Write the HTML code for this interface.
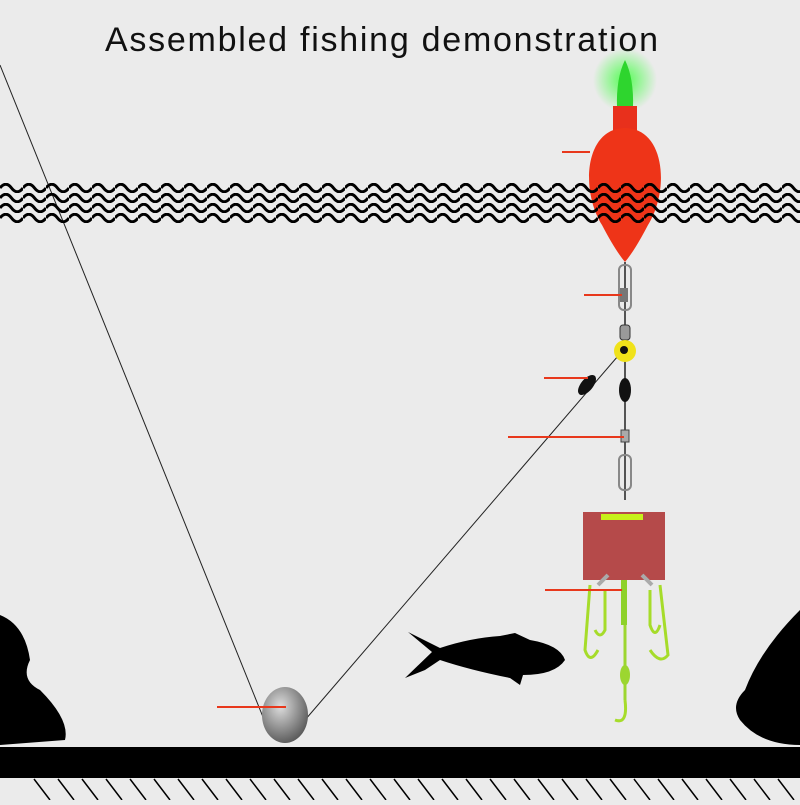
<!DOCTYPE html>
<html><head><style>
body{margin:0;width:800px;height:800px;overflow:hidden;background:#ebebeb;font-family:"Liberation Sans",sans-serif}
</style></head><body>
<svg width="800" height="800" viewBox="0 0 800 800">
<defs>
<pattern id="w" x="0" y="183" width="23" height="10" patternUnits="userSpaceOnUse"><path d="M0 5 Q5.75 -2.5 11.5 5 T23 5" fill="none" stroke="#000" stroke-width="3"/></pattern>
<radialGradient id="g" cx="0.5" cy="0.5" r="0.5"><stop offset="0" stop-color="#4f4" stop-opacity="0.9"/><stop offset="1" stop-color="#4f4" stop-opacity="0"/></radialGradient>
<radialGradient id="s" cx="0.4" cy="0.35" r="0.7"><stop offset="0" stop-color="#ddd"/><stop offset="1" stop-color="#555"/></radialGradient>
</defs>
<text x="105" y="51" font-size="34" fill="#111" textLength="553" lengthAdjust="spacing">Assembled  fishing  demonstration</text>
<line x1="0" y1="65" x2="265" y2="722" stroke="#222" stroke-width="1"/>
<line x1="305" y1="720" x2="618" y2="356" stroke="#222" stroke-width="1"/>
<!-- float -->
<circle cx="625" cy="80" r="32" fill="url(#g)"/>
<path d="M617 108 Q616 78 625 60 Q634 78 633 108 Z" fill="#2ed52e"/>
<rect x="613" y="106" width="24" height="28" fill="#e8301c"/>
<path d="M625 128 C585 128 580 190 602 225 Q615 250 625 262 Q635 250 648 225 C670 190 665 128 625 128 Z" fill="#ee3418"/>
<rect x="0" y="183" width="800" height="40" fill="url(#w)"/>
<!-- rig -->
<line x1="625" y1="262" x2="625" y2="500" stroke="#222" stroke-width="1.5"/>
<rect x="619" y="265" width="12" height="45" rx="5" fill="none" stroke="#888" stroke-width="2"/>
<rect x="620" y="288" width="8" height="14" fill="#777"/>
<rect x="620" y="325" width="10" height="15" rx="3" fill="#999" stroke="#333"/>
<circle cx="625" cy="351" r="11" fill="#f0e21a"/>
<circle cx="624" cy="350" r="4" fill="#111"/>
<ellipse cx="587" cy="385" rx="6" ry="12" transform="rotate(40 587 385)" fill="#111"/>
<ellipse cx="625" cy="390" rx="6" ry="12" fill="#111"/>
<rect x="621" y="430" width="8" height="12" fill="#aaa" stroke="#444"/>
<rect x="619" y="455" width="12" height="35" rx="5" fill="none" stroke="#888" stroke-width="2"/>
<!-- bait -->
<rect x="583" y="512" width="82" height="68" fill="#b54a4a"/>
<rect x="601" y="514" width="42" height="6" fill="#c8f01a"/>
<rect x="621" y="580" width="6" height="45" fill="#8ed12a"/>
<line x1="625" y1="625" x2="625" y2="700" stroke="#9cd630" stroke-width="3"/>
<ellipse cx="625" cy="675" rx="5" ry="10" fill="#9cd630"/>
<path d="M590 585 L585 650 Q590 665 598 650 M660 585 L668 655 Q660 665 650 650 M605 590 L605 630 Q600 640 595 630 M650 590 L650 625 Q655 640 660 625 M625 700 Q628 725 615 720" fill="none" stroke="#a6dc2a" stroke-width="3"/>
<path d="M598 585 L608 575 M652 585 L642 575" stroke="#aaa" stroke-width="4"/>
<!-- sinker -->
<ellipse cx="285" cy="715" rx="23" ry="28" fill="url(#s)"/>
<!-- labels -->
<g stroke="#e8381c" stroke-width="2">
<line x1="562" y1="152" x2="590" y2="152"/>
<line x1="584" y1="295" x2="622" y2="295"/>
<line x1="544" y1="378" x2="588" y2="378"/>
<line x1="508" y1="437" x2="624" y2="437"/>
<line x1="545" y1="590" x2="622" y2="590"/>
<line x1="217" y1="707" x2="286" y2="707"/>
</g>
<!-- fish -->
<path d="M408 632 L432 652 L405 678 L425 670 L440 660 Q470 670 510 678 L520 685 L523 675 Q555 675 565 660 Q560 645 530 640 L515 633 L500 636 Q470 638 440 648 Z" fill="#000"/>
<!-- rocks -->
<path d="M0 615 Q25 625 30 660 Q20 680 40 690 Q70 720 65 740 L0 745 Z" fill="#000"/>
<path d="M800 610 Q760 650 745 690 Q730 705 740 720 Q760 745 800 745 Z" fill="#000"/>
<!-- ground -->
<rect x="0" y="747" width="800" height="31" fill="#000"/>
<g stroke="#000" stroke-width="1.5">
<path d="M34 779 L50 800 M58 779 L74 800 M82 779 L98 800 M106 779 L122 800 M130 779 L146 800 M154 779 L170 800 M178 779 L194 800 M202 779 L218 800 M226 779 L242 800 M250 779 L266 800 M274 779 L290 800 M298 779 L314 800 M322 779 L338 800 M346 779 L362 800 M370 779 L386 800 M394 779 L410 800 M418 779 L434 800 M442 779 L458 800 M466 779 L482 800 M490 779 L506 800 M514 779 L530 800 M538 779 L554 800 M562 779 L578 800 M586 779 L602 800 M610 779 L626 800 M634 779 L650 800 M658 779 L674 800 M682 779 L698 800 M706 779 L722 800 M730 779 L746 800 M754 779 L770 800 M778 779 L794 800"/>
</g>
</svg>
</body></html>
